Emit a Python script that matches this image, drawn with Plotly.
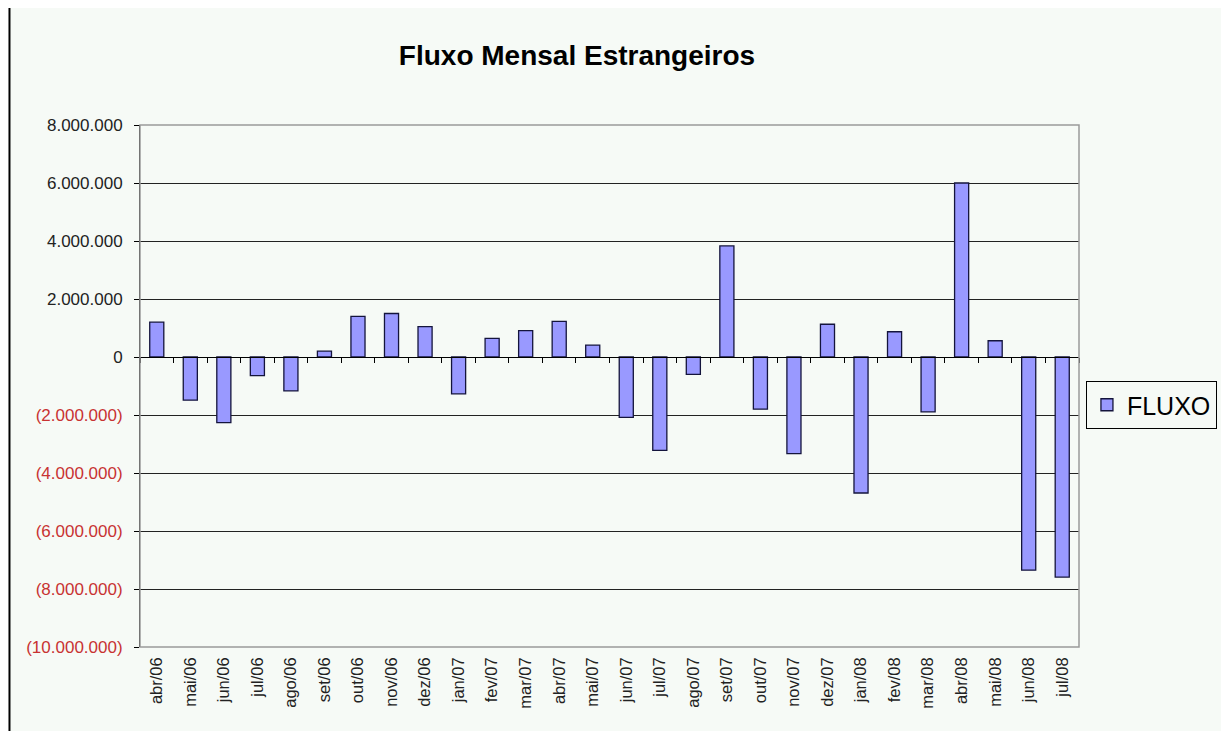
import plotly.graph_objects as go

months = ['abr/06', 'mai/06', 'jun/06', 'jul/06', 'ago/06', 'set/06', 'out/06', 'nov/06', 'dez/06',
          'jan/07', 'fev/07', 'mar/07', 'abr/07', 'mai/07', 'jun/07', 'jul/07', 'ago/07', 'set/07',
          'out/07', 'nov/07', 'dez/07', 'jan/08', 'fev/08', 'mar/08', 'abr/08', 'mai/08', 'jun/08', 'jul/08']
fluxo = [1200000, -1490000, -2260000, -640000, -1170000, 200000, 1400000, 1500000, 1050000,
         -1270000, 640000, 910000, 1230000, 410000, -2080000, -3220000, -600000, 3830000,
         -1800000, -3330000, 1130000, -4690000, 870000, -1890000, 6000000, 560000, -7350000, -7590000]
y_ticks = [8000000, 6000000, 4000000, 2000000, 0, -2000000, -4000000, -6000000, -8000000, -10000000]


def fmt(v):
    s = f"{abs(v):,}".replace(",", ".")
    if v < 0:
        return f"<span style='color:#C83232'>({s})</span>"
    return s


tick_text = [fmt(v) for v in y_ticks]
BG = "#F6FAF6"

# page body has an 8px margin, so the figure is a bit smaller than the window
W, H = 1221, 723

fig = go.Figure()
fig.add_trace(go.Bar(
    name='FLUXO', x=months, y=fluxo, width=0.42,
    marker=dict(color='#9999FF', line=dict(color='#14143C', width=1.3)),
))
# empty trace on the zero-line axis so it gets drawn
fig.add_trace(go.Bar(x=months, y=[None] * len(months), xaxis='x2', showlegend=False, hoverinfo='skip'))

fig.update_layout(
    width=W, height=H,
    margin=dict(l=132, r=147, t=117, b=84),
    paper_bgcolor='white',
    plot_bgcolor=BG,
    title=dict(
        text="<b>Fluxo Mensal Estrangeiros</b>",
        font=dict(family="Liberation Sans", size=28, color="black"),
        xref='container', x=(577 - 8) / W, xanchor='center',
        yref='container', y=1 - (55 - 8) / H, yanchor='middle',
    ),
    font=dict(family="Liberation Sans", color="#222222"),
    xaxis=dict(
        tickangle=-90, tickfont=dict(size=16.5, color="#222222"),
        showgrid=False, ticks='', showline=False, zeroline=False,
        ticklabelstandoff=6,
        range=[-0.5, len(months) - 0.5],
    ),
    xaxis2=dict(
        overlaying='x', anchor='free', position=10 / 18, matches='x',
        showline=True, linecolor='black', linewidth=1,
        ticks='outside', ticklen=5, tickcolor='black', tickson='boundaries',
        showticklabels=False, showgrid=False, zeroline=False,
    ),
    yaxis=dict(
        range=[-10000000, 8000000], tickvals=y_ticks, ticktext=tick_text,
        tickfont=dict(size=17, color="#222222"),
        showgrid=True, gridcolor='#222222', gridwidth=1,
        zeroline=False, showline=True, linecolor='black', linewidth=1,
        ticks='outside', ticklen=5, tickcolor='black',
        ticklabelstandoff=8,
    ),
    legend=dict(
        x=1.0074, y=0.4636, xanchor='left', yanchor='middle',
        bgcolor=BG, bordercolor='black', borderwidth=1,
        font=dict(family="Liberation Sans", size=25, color="black"),
        itemwidth=30,
    ),
    showlegend=True,
    shapes=[
        # chart area background and frame
        dict(type='rect', xref='paper', yref='paper', x0=-0.139, x1=1.153, y0=-0.2, y1=1.23,
             fillcolor=BG, line=dict(width=0), layer='below'),
        dict(type='line', xref='paper', yref='paper', x0=-0.139, x1=-0.139, y0=-0.2, y1=1.23,
             line=dict(color='black', width=2)),
        dict(type='line', xref='paper', yref='paper', x0=1.153, x1=1.153, y0=-0.2, y1=1.23,
             line=dict(color='#555555', width=2)),
        # plot area border (gray)
        dict(type='rect', xref='paper', yref='paper', x0=0, x1=1, y0=0, y1=1,
             line=dict(color='#9A9A9A', width=1.5), layer='above'),
    ],
)
fig.write_html("out.html")
